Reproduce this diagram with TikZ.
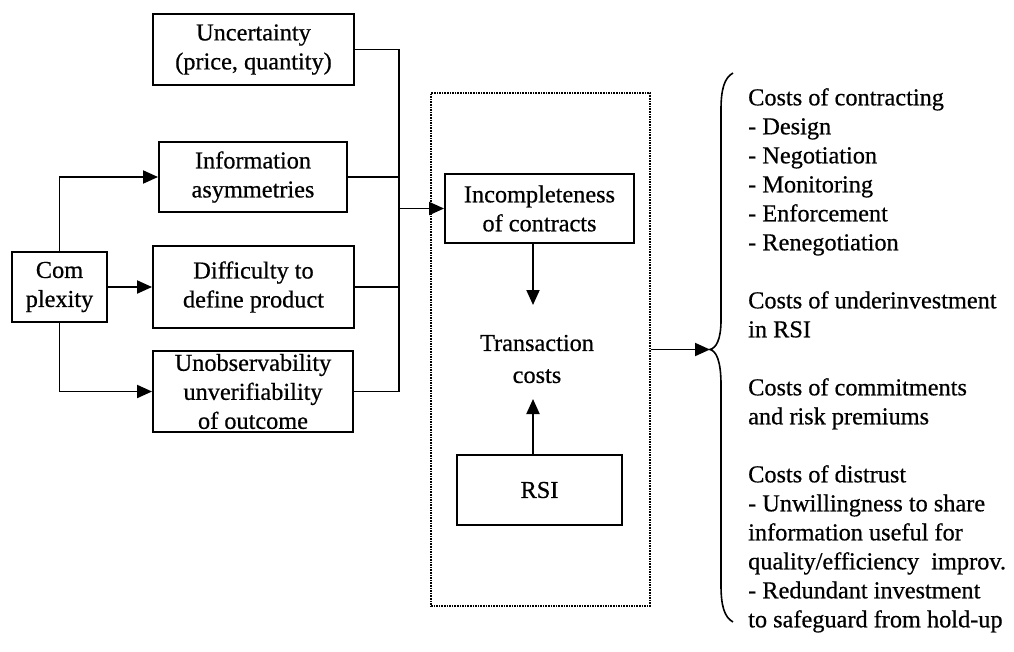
\documentclass[tikz,border=0pt]{standalone}
\usepackage{fontspec}
\setmainfont{Liberation Serif}[FakeBold=0.6]
\usetikzlibrary{arrows.meta}
\begin{document}
\begin{tikzpicture}[x=1pt,y=-1pt,
  font=\fontsize{24.3}{29}\selectfont,
  box/.style={draw, line width=1.9pt, align=center, inner sep=0pt},
  conn/.style={line width=1.9pt},
  arr/.style={conn, -{Triangle[length=15pt,width=13pt]}},
  dotbox/.style={draw, line width=1.6pt, dash pattern=on 1.6pt off 1pt, inner sep=0pt}]
\useasboundingbox (0,0) rectangle (1014,651);

\node[box, minimum width=201pt, minimum height=71pt] (unc) at (253.5,49.5) {Uncertainty\\(price, quantity)};
\node[box, minimum width=188pt, minimum height=70pt] (info) at (253,177) {Information\\asymmetries};
\node[box, minimum width=201pt, minimum height=82pt] (diff) at (253.5,287) {Difficulty to\\define product};
\node[box, minimum width=200pt, minimum height=81pt] (unob) at (253,391.5) {Unobservability\\unverifiability\\of outcome};
\node[box, minimum width=95pt, minimum height=70pt] (comp) at (59.5,287) {Com\\plexity};

\node[dotbox, minimum width=219pt, minimum height=513pt] (dot) at (540.5,349.5) {};
\node[box, minimum width=189pt, minimum height=69pt] (inc) at (539.5,208.5) {Incompleteness\\of contracts};
\node[align=center, inner sep=0pt, font=\fontsize{24.3}{32}\selectfont] (trans) at (537,359) {Transaction\\costs};
\node[box, minimum width=165pt, minimum height=70pt] (rsi) at (539.5,490) {RSI};

\coordinate (bt) at (399,49.5);
\coordinate (bb) at (399,391.5);
\coordinate (t1) at (533,305);
\coordinate (t2) at (533,399);
\coordinate (tip) at (710,349.5);

\draw[conn] (unc.east) -- (bt) -- (bb) -- (unob.east);
\draw[conn] (info.east) -- (info.east -| bt);
\draw[conn] (diff.east) -- (diff.east -| bt);
\draw[arr] (inc.west -| bt) -- (inc.west);

\draw[arr] (comp.north) |- (info.west);
\draw[arr] (comp.east) -- (diff.west);
\draw[arr] (comp.south) |- (unob.west);

\draw[arr] (inc.south -| t1) -- (t1);
\draw[arr] (rsi.north -| t2) -- (t2);

\draw[arr] (dot.east) -- (tip);
\draw[line width=1.6pt] (733,73) .. controls (724,78) and (721,90) .. (721,110) -- (721,320)
  .. controls (721,340) and (716,348) .. (tip) .. controls (716,351) and (721,360) .. (721,385)
  -- (721,585) .. controls (721,605) and (724,617) .. (733,622);

\node[anchor=north west, align=left, inner sep=0pt] (txt) at (748,88) {Costs of contracting\\- Design\\- Negotiation\\- Monitoring\\- Enforcement\\- Renegotiation\\[29pt]Costs of underinvestment\\in RSI\\[29pt]Costs of commitments\\and risk premiums\\[29pt]Costs of distrust\\- Unwillingness to share\\information useful for\\quality/efficiency\ \ improv.\\- Redundant investment\\to safeguard from hold-up};
\end{tikzpicture}
\end{document}
